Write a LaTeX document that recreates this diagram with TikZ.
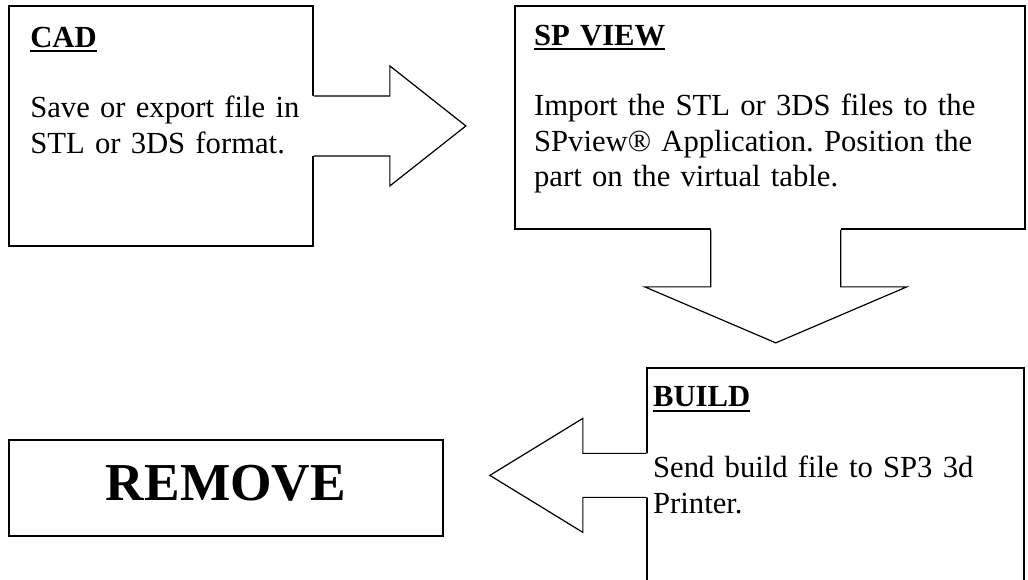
\documentclass[tikz,border=0pt]{standalone}
\usepackage{fontspec}
\setmainfont{Liberation Serif}
\usetikzlibrary{positioning, calc}

% underlined bold heading
\newcommand\hd[1]{\sbox0{\bfseries #1}\rlap{\rule[-3.75pt]{\wd0}{1.5pt}}\usebox0}

\tikzset{
    stepbox/.style={rectangle, draw=black, line width=1.4pt, inner sep=0pt},
    blockfill/.style={fill=white},
    blockline/.style={draw=black, line width=0.9pt, line join=miter},
    boxtext/.style={anchor=base west, inner sep=0pt, align=left,
        font=\fontsize{23pt}{26.6pt}\selectfont\frenchspacing}
}

\begin{document}
\begin{tikzpicture}[x=0.75pt, y=-0.75pt]

        \useasboundingbox (0,0) rectangle (1028,579);
        \clip (0,0) rectangle (1028,579);

        % Add the boxes
        \node[stepbox, anchor=north west,
            minimum width=228pt, minimum height=180pt] (cad) at (8,5) {};
        \node[stepbox, right=150pt of cad.north east, anchor=north west,
            minimum width=382.5pt, minimum height=167.25pt] (spview) {};
        \node[stepbox, below right=102.75pt and 99pt of spview.south west,
            minimum width=282.75pt, minimum height=191.25pt] (build) {};
        \node[stepbox, below=144pt of cad.south west, anchor=north west,
            minimum width=325.5pt, minimum height=72pt, text depth=7pt,
            font=\fontsize{40pt}{44pt}\selectfont\bfseries] (remove) {REMOVE};

        % Block arrows between the boxes
        \coordinate (a_1) at (cad.east);
        \coordinate (a_2) at ($(spview.south)+(6,0)$);
        \coordinate (a_3) at ($(build.north west)+(0,108)$);

        \path[blockfill] ($(a_1)+(-2,-30)$) -- ++(78,0) -- ++(0,-30) -- ++(76,60)
            -- ++(-76,60) -- ++(0,-30) -- ++(-78,0) -- cycle;
        \draw[blockline] ($(a_1)+(0,-30)$) -- ++(76,0) -- ++(0,-30) -- ++(76,60)
            -- ++(-76,60) -- ++(0,-30) -- ++(-76,0);

        \path[blockfill] ($(a_2)+(-65,-2)$) -- ++(0,59) -- ++(-66,0) -- ++(131,56)
            -- ++(131,-56) -- ++(-66,0) -- ++(0,-59) -- cycle;
        \draw[blockline] ($(a_2)+(-65,0)$) -- ++(0,57) -- ++(-66,0) -- ++(131,56)
            -- ++(131,-56) -- ++(-66,0) -- ++(0,-57);

        \path[blockfill] ($(a_3)+(2,-21.5)$) -- ++(-65,0) -- ++(0,-35) -- ++(-93,57)
            -- ++(93,57) -- ++(0,-35) -- ++(65,0) -- cycle;
        \draw[blockline] ($(a_3)+(0,-21.5)$) -- ++(-63,0) -- ++(0,-35) -- ++(-93,57)
            -- ++(93,57) -- ++(0,-35) -- ++(63,0);

        % Box texts
        \node[boxtext, text width=215pt] (cad_txt) at ($(cad.north west)+(22,42)$)
            {\hd{CAD}\\[26.6pt]
             Save or export file in\\
             STL or 3DS format.};
        \node[boxtext, text width=360pt] (spview_txt) at ($(spview.north west)+(20,40)$)
            {\hd{SP VIEW}\\[26.6pt]
             Import the STL or 3DS files to the\\
             SPview® Application. Position the\\
             part on the virtual table.};
        \node[boxtext, text width=265pt] (build_txt) at ($(build.north west)+(7,40)$)
            {\hd{BUILD}\\[26.6pt]
             Send build file to SP3 3d\\
             Printer.};
\end{tikzpicture}
\end{document}
